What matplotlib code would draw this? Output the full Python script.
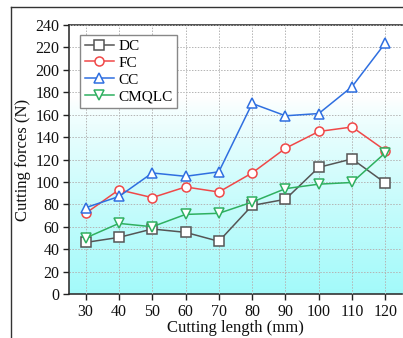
import numpy as np
import matplotlib
matplotlib.use("Agg")
import matplotlib.pyplot as plt
from matplotlib.lines import Line2D

plt.rcParams['font.family'] = ['Liberation Serif', 'DejaVu Serif']

lengths = [30, 40, 50, 60, 70, 80, 90, 100, 110, 120]
dc = [46, 50.5, 58, 55, 47, 79, 84.5, 113, 120.5, 99]
fc = [72, 93, 86, 95.5, 91, 108, 130, 145, 149, 128]
cc = [77, 87, 108, 105, 109, 170, 159, 161, 185, 224]
cmqlc = [50, 63, 60, 71, 72, 82, 94, 98, 99.5, 126]

series = [("DC", dc, "s", "#555555"),
          ("FC", fc, "o", "#f04848"),
          ("CC", cc, "^", "#2f6fe0"),
          ("CMQLC", cmqlc, "v", "#2fb060")]

W, H = 403, 338
fig = plt.figure(figsize=(W/100, H/100), dpi=100)
ax = fig.add_axes([69/W, (H-294)/H, (402-69)/W, (294-25)/H])

# gradient background
ys = np.linspace(0, 240, 300)
t = np.clip((175 - ys) / 175, 0, 1) ** 0.8
white = np.array([1, 1, 1])
cyan = np.array([0.64, 0.98, 0.98])
cols = white[None, :] * (1 - t[:, None]) + cyan[None, :] * t[:, None]
img = cols[:, None, :]
ax.imshow(img, extent=[25, 125, 0, 240], origin='lower', aspect='auto', zorder=0)

for name, vals, mk, c in series:
    ax.plot(lengths, vals, marker=mk, color=c, label=name, lw=1.1,
            markersize=6.5, markerfacecolor='white', markeredgecolor=c,
            markeredgewidth=1.1, zorder=3)

ax.set_xlim(25, 125)
ax.set_ylim(0, 240)
ax.set_xticks(lengths)
ax.set_yticks(np.arange(0, 241, 20))
ax.grid(True, color='#b4b4b4', linestyle=(0, (1.5, 1.5)), linewidth=0.7, zorder=1)
ax.set_axisbelow(False)
for s in ax.spines.values():
    s.set_color('#333333')
    s.set_linewidth(1.2)
ax.spines['right'].set_visible(False)
ax.tick_params(axis='both', direction='out', length=4, width=1, labelsize=11.5,
               colors='#222222', pad=3)
ax.tick_params(axis='both', labelcolor='#111111')
ax.set_xlabel("Cutting length (mm)", fontsize=12, labelpad=0, color='#111111')
ax.set_ylabel("Cutting forces (N)", fontsize=12, labelpad=3, color='#111111')

leg = ax.legend(loc='upper left', bbox_to_anchor=(0.025, 0.975), fontsize=11,
                frameon=True, fancybox=False, handlelength=1.9, handletextpad=0.3,
                borderpad=0.3, labelspacing=0.2, borderaxespad=0.2)
leg.get_frame().set_edgecolor('#888888')
leg.get_frame().set_linewidth(1.0)
leg.get_frame().set_facecolor('white')
leg.get_frame().set_alpha(1)

# outer frame lines
fig.add_artist(Line2D([11/W, 11/W], [0, 1 - 7/H], transform=fig.transFigure,
                      color='#333333', lw=1.0))
fig.add_artist(Line2D([11/W, 1], [1 - 7/H, 1 - 7/H], transform=fig.transFigure,
                      color='#333333', lw=1.0))

fig.savefig("out.png", dpi=100)
